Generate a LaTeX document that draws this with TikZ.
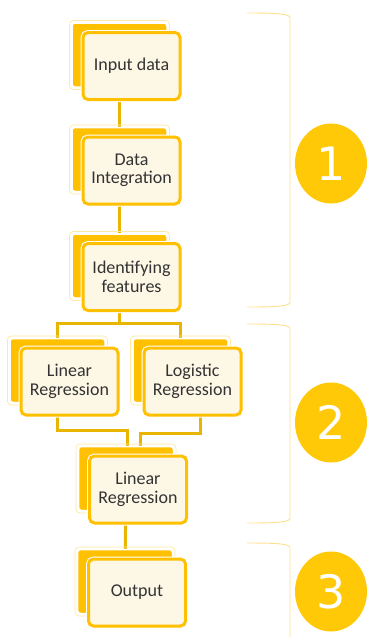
\documentclass[tikz,border=0pt]{standalone}
\usepackage{fontspec}
\setmainfont{Carlito}
\newfontfamily\numfont{DejaVu Sans}
\usetikzlibrary{shapes.geometric}

\definecolor{gold}{HTML}{FFC000}
\definecolor{goldline}{HTML}{E8B500}
\definecolor{cream}{HTML}{FDF7E6}
\definecolor{paleedge}{HTML}{FFE7A0}
\definecolor{bracketc}{HTML}{FFE08A}
\definecolor{badge}{HTML}{FFC907}
\definecolor{txt}{HTML}{333333}

\pgfdeclarelayer{bg}
\pgfsetlayers{bg,main}

\tikzset{
  backbox/.style={rectangle, rounded corners=3pt, fill=gold, draw=white,
    line width=1.5pt, minimum width=95pt, minimum height=64pt, inner sep=0pt},
  halo/.style={draw=paleedge, line width=0.7pt, rounded corners=4pt},
  frontbox/.style={rectangle, rounded corners=5pt, fill=cream, draw=gold,
    line width=3pt, preaction={draw=white, line width=5pt},
    minimum width=97pt, minimum height=67pt, inner sep=0pt, align=center,
    font=\fontsize{18}{18.5}\selectfont, text=txt},
  link/.style={draw=goldline, line width=3pt},
  badgestyle/.style={ellipse, fill=badge, minimum width=72pt,
    minimum height=80pt, inner sep=0pt, text=white,
    font=\numfont\fontsize{46}{46}\selectfont},
  brace/.style={draw=bracketc, line width=0.9pt}
}

% stacked card: #1 name, (#2,#3) centre of the front card, #4 label
\newcommand{\stackcard}[4]{%
  \node[backbox] (#1b) at (#2-12,#3-11) {};
  \draw[halo] ([shift={(-1.8pt,1.8pt)}]#1b.north west) rectangle
              ([shift={(1.8pt,-1.8pt)}]#1b.south east);
  \node[frontbox] (#1) at (#2,#3) {#4};
}

\begin{document}
\begin{tikzpicture}[x=1pt, y=-1pt]
  \useasboundingbox (0,0) rectangle (367,637);

  % cards
  \stackcard{inp}{131.5}{66}{Input data}
  \stackcard{integ}{131.5}{170.5}{Data\\Integration}
  \stackcard{feat}{131.5}{277}{Identifying\\features}
  \stackcard{lin}{69.5}{381.5}{Linear\\Regression}
  \stackcard{logi}{192.5}{381.5}{Logistic\\Regression}
  \stackcard{lin2}{138}{489.5}{Linear\\Regression}
  \stackcard{outp}{137}{592.5}{Output}

  % junction points of the connectors
  \coordinate (split) at (120,323);
  \coordinate (j1) at (127,430);
  \coordinate (j2) at (140,433);

  % connectors behind the cards
  \begin{pgfonlayer}{bg}
    \draw[link] (inpb) -- (integb);
    \draw[link] (integb) -- (featb);
    \draw[link] (featb) -- (featb |- split);
    \draw[link] (linb) |- (split) -| (logib);
    \draw[link] (linb) |- (j1) -- (j1 |- lin2b);
    \draw[link] ([xshift=20pt]logib.center) |- (j2) -- (j2 |- lin2b);
    \draw[link] (lin2b) -- (outpb);
  \end{pgfonlayer}

  % stage brackets
  \draw[brace] (247,13) .. controls (280,13) and (290,14) .. (290,18)
               -- (290,302) .. controls (290,306) and (280,307) .. (247,307);
  \draw[brace] (247,324) .. controls (280,324) and (290,325) .. (290,329)
               -- (290,518) .. controls (290,522) and (280,523) .. (247,523);
  \draw[brace] (247,543) .. controls (280,543) and (290,544) .. (290,548)
               -- (290,637);

  % stage badges
  \node[badgestyle] (s1) at (331,163.5) {1};
  \node[badgestyle] (s2) at (331,422.5) {2};
  \node[badgestyle] (s3) at (331,591.5) {3};
\end{tikzpicture}
\end{document}
